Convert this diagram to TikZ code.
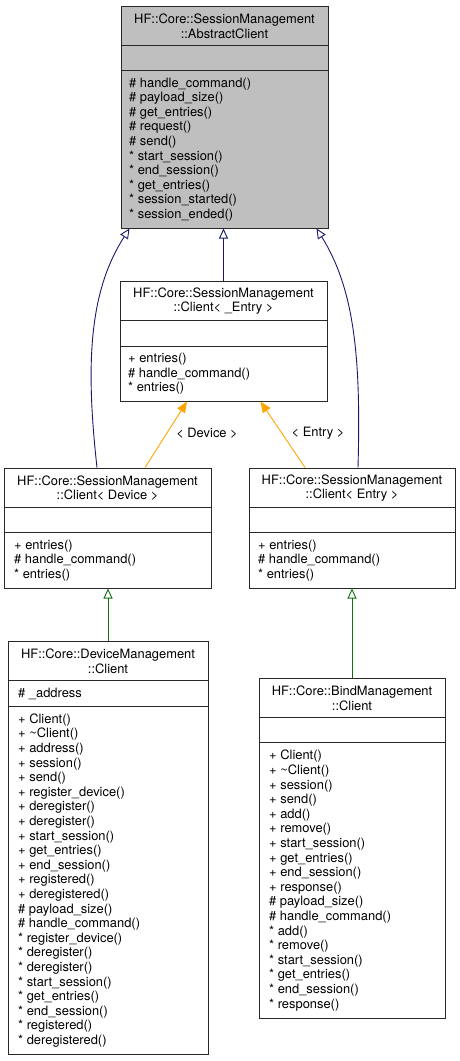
\documentclass[tikz,border=0pt]{standalone}
\usepackage{fontspec}
\setmainfont{TeX Gyre Heros}
\usepackage{tikz}
\usetikzlibrary{arrows.meta,positioning}
\definecolor{boxline}{RGB}{40,40,40}
\definecolor{grey75}{RGB}{191,191,191}
\definecolor{navy}{RGB}{25,25,112}
\definecolor{tmplorange}{RGB}{255,165,0}
\definecolor{protgreen}{RGB}{20,110,20}
\newcommand{\umlfont}{\fontsize{12.9}{14.6}\selectfont}
\tikzstyle{classbox} = [rectangle, draw=boxline, line width=1pt, inner sep=0pt, fill=white]
\tikzstyle{classtext} = [inner sep=0pt, font=\umlfont]
\tikzstyle{sepline} = [draw=boxline, line width=1pt]
\tikzstyle{inherit} = [draw=navy, line width=0.9pt, -{Triangle[open, width=9pt, length=10pt]}]
\tikzstyle{protinherit} = [draw=protgreen, line width=0.9pt, -{Triangle[open, width=9pt, length=10pt]}]
\tikzstyle{template} = [draw=tmplorange, line width=0.9pt, -{Triangle[width=9pt, length=11pt]}]
\begin{document}
\begin{tikzpicture}[x=1pt, y=-1pt]
\useasboundingbox (0,0) rectangle (460,1061);
% AbstractClient
\node (abstract) [classbox, fill=grey75, minimum width=207pt, minimum height=222pt] at (224.5,117) {};
\node (abstracttitle) [classtext, align=center] at (224.5,26) {HF::Core::SessionManagement\\::AbstractClient};
\draw [sepline] ([yshift=-40pt]abstract.north west) -- ([yshift=-40pt]abstract.north east);
\draw [sepline] ([yshift=-65pt]abstract.north west) -- ([yshift=-65pt]abstract.north east);
\node (abstractops) [classtext, anchor=west, align=left] at (129,149.5) {\# handle\_command()\\\# payload\_size()\\\# get\_entries()\\\# request()\\\# send()\\* start\_session()\\* end\_session()\\* get\_entries()\\* session\_started()\\* session\_ended()};
% Client< _Entry >
\node (tmplentry) [classbox, minimum width=207pt, minimum height=120pt] at (223.5,341) {};
\node (tmplentrytitle) [classtext, align=center] at (223.5,301) {HF::Core::SessionManagement\\::Client< \_Entry >};
\draw [sepline] ([yshift=-40pt]tmplentry.north west) -- ([yshift=-40pt]tmplentry.north east);
\draw [sepline] ([yshift=-66pt]tmplentry.north west) -- ([yshift=-66pt]tmplentry.north east);
\node (tmplentryops) [classtext, anchor=west, align=left] at (128,374) {+ entries()\\\# handle\_command()\\* entries()};
% Client< Device >
\node (devclient) [classbox, minimum width=207pt, minimum height=120pt] at (107.5,528) {};
\node (devclienttitle) [classtext, align=center] at (107.5,488) {HF::Core::SessionManagement\\::Client< Device >};
\draw [sepline] ([yshift=-40pt]devclient.north west) -- ([yshift=-40pt]devclient.north east);
\draw [sepline] ([yshift=-65pt]devclient.north west) -- ([yshift=-65pt]devclient.north east);
\node (devclientops) [classtext, anchor=west, align=left] at (14,560.5) {+ entries()\\\# handle\_command()\\* entries()};
% Client< Entry >
\node (entryclient) [classbox, minimum width=206pt, minimum height=120pt] at (352,528) {};
\node (entryclienttitle) [classtext, align=center] at (352,488) {HF::Core::SessionManagement\\::Client< Entry >};
\draw [sepline] ([yshift=-40pt]entryclient.north west) -- ([yshift=-40pt]entryclient.north east);
\draw [sepline] ([yshift=-65pt]entryclient.north west) -- ([yshift=-65pt]entryclient.north east);
\node (entryclientops) [classtext, anchor=west, align=left] at (258,560.5) {+ entries()\\\# handle\_command()\\* entries()};
% DeviceManagement::Client
\node (devmgmt) [classbox, minimum width=200pt, minimum height=413pt] at (108,847.5) {};
\node (devmgmttitle) [classtext, align=center] at (108,661) {HF::Core::DeviceManagement\\::Client};
\draw [sepline] ([yshift=-40pt]devmgmt.north west) -- ([yshift=-40pt]devmgmt.north east);
\draw [sepline] ([yshift=-66pt]devmgmt.north west) -- ([yshift=-66pt]devmgmt.north east);
\node (devmgmtattr) [classtext, anchor=west] at (18,694) {\# \_address};
\node (devmgmtops) [classtext, anchor=west, align=left] at (18,880.5) {+ Client()\\+ \textasciitilde Client()\\+ address()\\+ session()\\+ send()\\+ register\_device()\\+ deregister()\\+ deregister()\\+ start\_session()\\+ get\_entries()\\+ end\_session()\\+ registered()\\+ deregistered()\\\# payload\_size()\\\# handle\_command()\\* register\_device()\\* deregister()\\* deregister()\\* start\_session()\\* get\_entries()\\* end\_session()\\* registered()\\* deregistered()};
% BindManagement::Client
\node (bindmgmt) [classbox, minimum width=186pt, minimum height=340pt] at (352,848) {};
\node (bindmgmttitle) [classtext, align=center] at (352,698) {HF::Core::BindManagement\\::Client};
\draw [sepline] ([yshift=-40pt]bindmgmt.north west) -- ([yshift=-40pt]bindmgmt.north east);
\draw [sepline] ([yshift=-65pt]bindmgmt.north west) -- ([yshift=-65pt]bindmgmt.north east);
\node (bindmgmtops) [classtext, anchor=west, align=left] at (269,880.5) {+ Client()\\+ \textasciitilde Client()\\+ session()\\+ send()\\+ add()\\+ remove()\\+ start\_session()\\+ get\_entries()\\+ end\_session()\\+ response()\\\# payload\_size()\\\# handle\_command()\\* add()\\* remove()\\* start\_session()\\* get\_entries()\\* end\_session()\\* response()};
% inheritance
\draw [inherit] (tmplentry.north) -- (tmplentry.north |- abstract.south);
\draw [inherit] ([xshift=-10.5pt]devclient.north) .. controls (85,360) and (90,290) .. ([xshift=-95pt]abstract.south);
\draw [inherit] ([xshift=6pt]entryclient.north) .. controls (361,360) and (355,290) .. ([xshift=92pt]abstract.south);
\draw [template] ([xshift=37.5pt]devclient.north) -- ([xshift=-36.5pt]tmplentry.south);
\draw [template] ([xshift=-47pt]entryclient.north) -- ([xshift=37pt]tmplentry.south);
\node (devicelabel) [classtext] at (207,433) {< Device >};
\node (entrylabel) [classtext] at (318,433) {< Entry >};
\draw [protinherit] (devmgmt.north) -- (devmgmt.north |- devclient.south);
\draw [protinherit] (bindmgmt.north) -- (bindmgmt.north |- entryclient.south);
\end{tikzpicture}
\end{document}
